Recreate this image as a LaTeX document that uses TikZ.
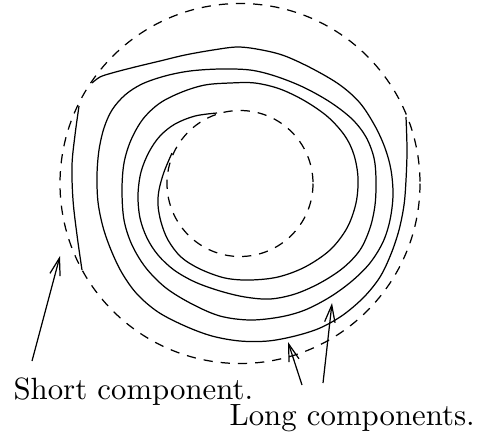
\documentclass[tikz,border=0pt]{standalone}
\usetikzlibrary{arrows.meta}
\begin{document}
\begin{tikzpicture}[x=0.325pt,y=-0.325pt,
  curve/.style={line width=0.4pt, line join=round},
  guide/.style={line width=0.4pt, dash pattern=on 3pt off 2.6pt},
  lbl/.style={inner sep=0pt, anchor=base west},
  pointer/.style={line width=0.4pt, -{Straight Barb[length=5.6pt,width=3.4pt]}}]
\useasboundingbox (0,0) rectangle (479,436);
% dashed circles
\draw[guide] (240,183.5) circle[radius=180];
\draw[guide] (240,183.5) circle[radius=73];
% long component 1
\draw[curve] plot[smooth, tension=0.55] coordinates {
(172,153) (164,172) (159,190) (158,205) (161,222) (168,240) (181,257) (200,269)
(225,278) (250,280) (278,277) (305,267) (330,250) (347,228) (356,203) (358,178)
(354,155) (345,136) (328,117) (305,101) (280,89) (255,83) (230,83) (205,85)
(182,92) (160,103) (143,119) (131,140) (124,163) (122,190) (124,220) (132,245)
(146,268) (166,288) (192,304) (220,316) (250,320) (280,317) (305,310) (330,297)
(352,281) (370,263) (383,242) (390,220) (393,195) (391,170) (385,148) (375,126)
(360,103) (340,85) (313,69) (285,56) (262,50) (238,47) (213,50) (185,55)
(160,61) (135,67) (112,73) (100,77) (92,83)};
% long component 2
\draw[curve] plot[smooth, tension=0.55] coordinates {
(217,113) (195,116) (175,124) (160,136) (149,152) (141,172) (138,195) (140,218)
(147,238) (158,255) (174,270) (195,282) (220,291) (245,297) (270,299) (295,294)
(320,283) (343,268) (360,250) (370,228) (375,205) (376,180) (374,158) (366,137)
(352,119) (330,102) (303,87) (275,76) (250,70) (220,69) (190,71) (165,76)
(142,84) (125,95) (112,110) (104,128) (99,150) (97,175) (98,202) (103,227)
(111,250) (122,273) (137,294) (158,312) (185,326) (212,336) (240,341) (268,341)
(295,336) (320,328) (343,315) (364,297) (380,277) (391,254) (399,230) (404,205)
(406,180) (407,150) (406,117)};
% short component
\draw[curve] plot[smooth, tension=0.55] coordinates {
(79,106) (75,135) (72,165) (73,200) (77,235) (82,270)};
% labels
\node[lbl] (short) at (13,399) {Short component.};
\node[lbl] (long) at (229,425) {Long components.};
% pointers
\coordinate (sT) at (32,361);
\coordinate (sH) at (60,256);
\coordinate (aT) at (302,385);
\coordinate (aH) at (288,342);
\coordinate (bT) at (323,383);
\coordinate (bH) at (332,303);
\draw[pointer] (sT) -- (sH);
\draw[pointer] (aT) -- (aH);
\draw[pointer] (bT) -- (bH);
\end{tikzpicture}
\end{document}
